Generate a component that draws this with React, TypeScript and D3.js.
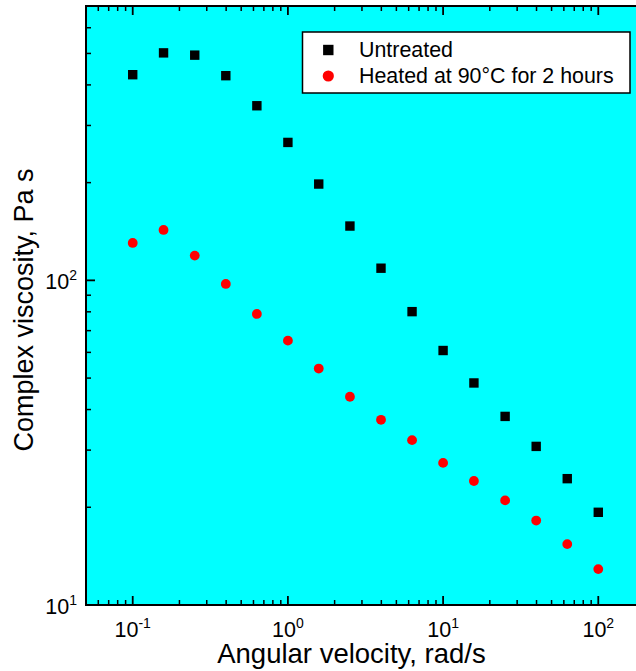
import React from "react";
import * as d3 from "d3";

const frequencies = [0.1, 0.158, 0.251, 0.398, 0.631, 1, 1.58, 2.51, 3.98, 6.31, 10, 15.8, 25.1, 39.8, 63.1, 100];
const untreated = [430, 502, 494, 427, 345, 266, 198, 147, 109, 80.1, 60.8, 48.3, 38.1, 30.8, 24.5, 19.3];
const heated = [130.4, 143, 119.2, 97.5, 78.8, 65.2, 53.5, 43.8, 37.2, 32.2, 27.4, 24.1, 21.0, 18.2, 15.4, 12.9];
const xMajorTicks = [0.1, 1, 10, 100];
const xMajorLabels = ["-1", "0", "1", "2"];
const yMajorTicks = [10, 100];
const yMajorLabels = ["1", "2"];
const seriesNames = ["Untreated", "Heated at 90°C for 2 hours"];
const xTitle = "Angular velocity, rad/s";
const yTitle = "Complex viscosity, Pa s";

const W = 636;
const H = 671;
const L = 86, R = 645, T = 6, B = 605;
const FONT = "'Liberation Sans', Arial, Helvetica, sans-serif";

export default function App() {
  const x = d3.scaleLog().domain([0.05, 200]).range([L, R]);
  const y = d3.scaleLog().domain([10, 700]).range([B, T]);

  const xMinor: number[] = [];
  for (let e = -2; e <= 2; e++) {
    for (let m = 2; m <= 9; m++) {
      const v = m * Math.pow(10, e);
      if (v >= 0.05 && v <= 200) xMinor.push(v);
    }
  }
  const yMinor: number[] = [];
  for (let e = 1; e <= 2; e++) {
    for (let m = 2; m <= 9; m++) {
      const v = m * Math.pow(10, e);
      if (v >= 10 && v <= 700) yMinor.push(v);
    }
  }

  const majorLen = 9;
  const minorLen = 5;

  return (
    <svg
      width={W}
      height={H}
      style={{ position: "absolute", left: 0, top: 0, overflow: "hidden", background: "#fff" }}
      fontFamily={FONT}
    >
      <rect x={L} y={T} width={R - L} height={B - T} fill="#00ffff" />
      {xMinor.map((v, i) => (
        <g key={"xm" + i} stroke="#000" strokeWidth={1.5}>
          <line x1={x(v)} x2={x(v)} y1={B} y2={B - minorLen} />
          <line x1={x(v)} x2={x(v)} y1={T} y2={T + minorLen} />
        </g>
      ))}
      {xMajorTicks.map((v, i) => (
        <g key={"xM" + i} stroke="#000" strokeWidth={1.8}>
          <line x1={x(v)} x2={x(v)} y1={B} y2={B - majorLen} />
          <line x1={x(v)} x2={x(v)} y1={T} y2={T + majorLen} />
        </g>
      ))}
      {yMinor.map((v, i) => (
        <g key={"ym" + i} stroke="#000" strokeWidth={1.5}>
          <line x1={L} x2={L + minorLen} y1={y(v)} y2={y(v)} />
        </g>
      ))}
      {yMajorTicks.map((v, i) => (
        <g key={"yM" + i} stroke="#000" strokeWidth={1.8}>
          <line x1={L} x2={L + majorLen} y1={y(v)} y2={y(v)} />
        </g>
      ))}
      <rect x={L} y={T} width={R - L} height={B - T} fill="none" stroke="#000" strokeWidth={2} />

      {frequencies.map((f, i) => (
        <rect key={"u" + i} x={x(f) - 4.7} y={y(untreated[i]) - 4.7} width={9.4} height={9.4} fill="#000" />
      ))}
      {frequencies.map((f, i) => (
        <circle key={"h" + i} cx={x(f)} cy={y(heated[i])} r={4.9} fill="#ff0000" />
      ))}

      {xMajorTicks.map((v, i) => (
        <text key={"xl" + i} x={x(v)} y={637} textAnchor="middle" fontSize={21.5} fill="#000">
          10
          <tspan fontSize={14} dy={-9}>{xMajorLabels[i]}</tspan>
        </text>
      ))}
      {yMajorTicks.map((v, i) => (
        <text key={"yl" + i} x={77} y={y(v) + 9} textAnchor="end" fontSize={21.5} fill="#000">
          10
          <tspan fontSize={14} dy={-9}>{yMajorLabels[i]}</tspan>
        </text>
      ))}

      <text x={351.5} y={663} textAnchor="middle" fontSize={27.5} fill="#000">{xTitle}</text>
      <text transform="translate(33,310) rotate(-90)" textAnchor="middle" fontSize={27} fill="#000">{yTitle}</text>

      <rect x={302.5} y={32} width={327.5} height={61} fill="#fff" stroke="#000" strokeWidth={1.5} />
      <rect x={328.3 - 5.2} y={50 - 5.2} width={10.4} height={10.4} fill="#000" />
      <circle cx={328.3} cy={76} r={5.6} fill="#ff0000" />
      <text x={359} y={56.5} fontSize={21.4} fill="#000">{seriesNames[0]}</text>
      <text x={359} y={83} fontSize={21.4} fill="#000">{seriesNames[1]}</text>
    </svg>
  );
}
